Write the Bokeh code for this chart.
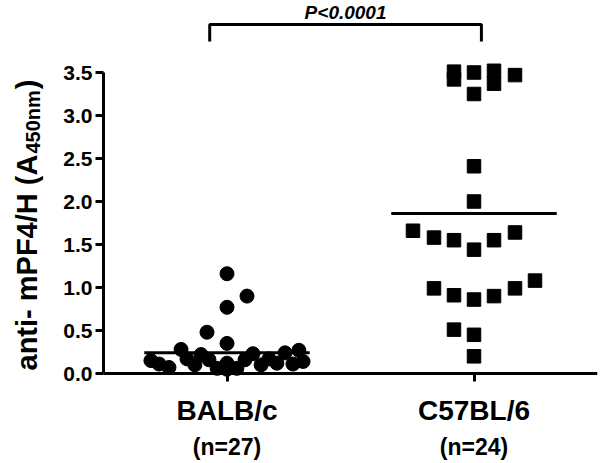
import math
from bokeh.plotting import figure
from bokeh.models import Range1d, FixedTicker, LinearAxis
from bokeh.core.properties import value
from bokeh.embed import file_html
from bokeh.resources import INLINE

# ---------------- data ----------------
groups = ["BALB/c", "C57BL/6"]
group_n = ["(n=27)", "(n=24)"]
group_pos = [1, 2]

# BALB/c: values and horizontal scatter offsets (category units)
balb_y = [1.16, 0.90, 0.77, 0.48, 0.35,
          0.28, 0.27,
          0.22, 0.23, 0.24,
          0.15, 0.17, 0.16, 0.16, 0.17, 0.14,
          0.11, 0.10, 0.12, 0.10, 0.12, 0.11,
          0.07, 0.06, 0.05, 0.06, 0.08]
balb_dx = [0.0, 0.081, 0.0, -0.081, 0.0,
           -0.186, 0.291,
           -0.105, 0.105, 0.235,
           -0.308, -0.162, -0.073, 0.073, 0.170, 0.308,
           -0.275, -0.130, 0.0, 0.138, 0.202, 0.267,
           -0.235, -0.040, 0.0, 0.040, -0.004]

# C57BL/6
c57_y = [3.51, 3.42, 3.50, 3.25, 3.52, 3.37, 3.47,
         2.41, 2.00,
         1.66, 1.58, 1.55, 1.44, 1.55, 1.64,
         0.99, 0.91, 0.86, 0.90, 0.99, 1.08,
         0.51, 0.45, 0.20]
c57_dx = [-0.081, -0.081, 0.0, 0.0, 0.081, 0.081, 0.166,
          0.0, 0.0,
          -0.247, -0.162, -0.081, 0.0, 0.081, 0.166,
          -0.162, -0.081, 0.0, 0.081, 0.166, 0.247,
          -0.081, 0.0, 0.0]

means = [0.24, 1.86]
p_value_text = "P<0.0001"
y_ticks = [0.0, 0.5, 1.0, 1.5, 2.0, 2.5, 3.0, 3.5]
y_tick_labels = ["0.0", "0.5", "1.0", "1.5", "2.0", "2.5", "3.0", "3.5"]
y_title_parts = ["anti- mPF4/H (A", "450nm", ")"]

# ---------------- layout ----------------
AXIS_PX = 103          # pixel column of the y axis
ZERO_PX = 373          # pixel row of y = 0
FW, FH = 597, 463
PX_X = 247.0           # px per category unit
PX_Y = 86.0            # px per y unit
X_AXIS = 0.5
X_START = X_AXIS - AXIS_PX / PX_X
X_END = X_START + FW / PX_X
Y_START = -(FH - ZERO_PX) / PX_Y
Y_END = ZERO_PX / PX_Y


def xd(cx):
    return X_AXIS + (cx - AXIS_PX) / PX_X


def yd(cy):
    return (ZERO_PX - cy) / PX_Y


p = figure(frame_width=FW, frame_height=FH,
           x_range=Range1d(X_START, X_END), y_range=Range1d(Y_START, Y_END),
           x_axis_type=None, y_axis_type=None,
           output_backend="svg", toolbar_location=None,
           min_border_left=0, min_border_right=4,
           min_border_top=0, min_border_bottom=0)
p.outline_line_color = None
p.background_fill_color = "white"
p.border_fill_color = "white"

FONT = "Liberation Sans"

yaxis = LinearAxis(ticker=FixedTicker(ticks=y_ticks), bounds=(0, 3.5),
                   fixed_location=X_AXIS,
                   major_label_overrides={t: l for t, l in zip(y_ticks, y_tick_labels)})
yaxis.axis_line_width = 3
yaxis.major_tick_line_width = 3
yaxis.major_tick_out = 8
yaxis.major_tick_in = 0
yaxis.minor_tick_line_color = None
yaxis.major_label_standoff = 3
yaxis.major_label_text_font = FONT
yaxis.major_label_text_font_style = "bold"
yaxis.major_label_text_font_size = "21px"
yaxis.major_label_text_color = "black"
p.add_layout(yaxis, "left")

xaxis = LinearAxis(ticker=FixedTicker(ticks=group_pos), bounds=(X_AXIS, X_END),
                   fixed_location=0,
                   major_label_overrides={g: n for g, n in zip(group_pos, groups)})
xaxis.axis_line_width = 3
xaxis.major_tick_line_width = 3
xaxis.major_tick_out = 8
xaxis.major_tick_in = 0
xaxis.minor_tick_line_color = None
xaxis.major_label_standoff = 13
xaxis.major_label_text_font = FONT
xaxis.major_label_text_font_style = "bold"
xaxis.major_label_text_font_size = "28px"
xaxis.major_label_text_color = "black"
p.add_layout(xaxis, "below")

naxis = LinearAxis(ticker=FixedTicker(ticks=group_pos), fixed_location=0,
                   major_label_overrides={g: n for g, n in zip(group_pos, group_n)})
naxis.axis_line_color = None
naxis.major_tick_line_color = None
naxis.minor_tick_line_color = None
naxis.major_tick_out = 0
naxis.major_tick_in = 0
naxis.major_label_standoff = 60
naxis.major_label_text_font = FONT
naxis.major_label_text_font_style = "bold"
naxis.major_label_text_font_size = "23px"
naxis.major_label_text_color = "black"
p.add_layout(naxis, "below")

# points
p.scatter(x=[group_pos[0] + d for d in balb_dx], y=balb_y, marker="circle",
          size=14, fill_color="black", line_color="black")
p.scatter(x=[group_pos[1] + d for d in c57_dx], y=c57_y, marker="square",
          size=13.5, fill_color="black", line_color="black")

# mean lines
half = 0.335
p.segment(x0=[g - half for g in group_pos], x1=[g + half for g in group_pos],
          y0=means, y1=means, line_width=3, line_color="black")

# significance bracket and p-value
bl, br = group_pos[0] - 0.07, group_pos[1] + 0.03
p.line(x=[bl, bl, br, br], y=[yd(41), yd(24), yd(24), yd(41)],
       line_width=3, line_color="black")
p.text(x=[(bl + br) / 2], y=[yd(12)], text=[p_value_text],
       text_font=value(FONT), text_font_style="bold italic",
       text_font_size="19px", text_align="center", text_baseline="middle",
       text_color="black")

# rotated y title with subscript
MAIN_SZ, SUB_SZ = 29, 20
EM_MAIN, EM_SUB = 7.445, 3.168
start = 370
seg_start = [start, start - EM_MAIN * MAIN_SZ - 1,
             start - EM_MAIN * MAIN_SZ - EM_SUB * SUB_SZ - 2]
seg_base = [26, 32, 26]
seg_size = [MAIN_SZ, SUB_SZ, MAIN_SZ]
for txt, s0, bx, sz in zip(y_title_parts, seg_start, seg_base, seg_size):
    p.text(x=[xd(bx)], y=[yd(s0)], text=[txt], angle=math.pi / 2,
           text_font=value(FONT), text_font_style="bold",
           text_font_size=f"{sz}px", text_align="left",
           text_baseline="alphabetic", text_color="black")

open("out.html", "w").write(file_html(p, INLINE))
